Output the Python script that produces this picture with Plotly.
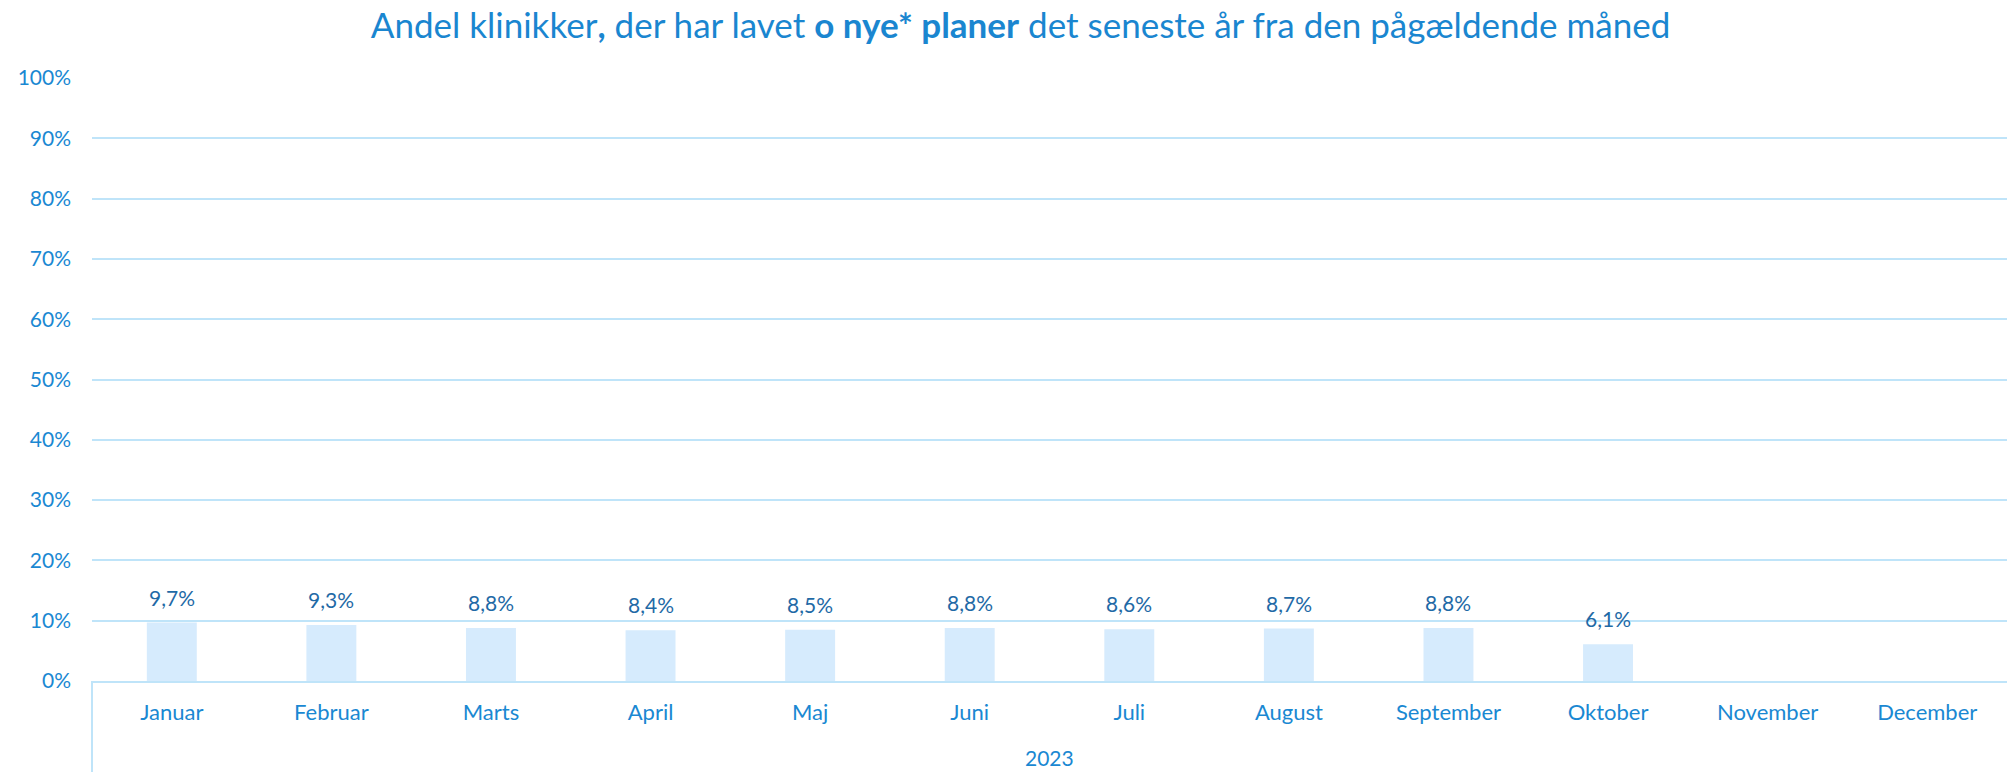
import plotly.graph_objects as go

year = "2023"
months = ["Januar", "Februar", "Marts", "April", "Maj", "Juni", "Juli",
          "August", "September", "Oktober", "November", "December"]
values = [0.097, 0.093, 0.088, 0.084, 0.085, 0.088, 0.086, 0.087, 0.088, 0.061, None, None]
y_ticks = [0, 0.1, 0.2, 0.3, 0.4, 0.5, 0.6, 0.7, 0.8, 0.9, 1.0]
y_tick_labels = ["0%", "10%", "20%", "30%", "40%", "50%", "60%", "70%", "80%", "90%", "100%"]

labels = [("" if v is None else f"{v*100:.1f}".replace(".", ",") + "%") for v in values]

FONT = "Lato"
TICK_COLOR = "#1a88d2"
LABEL_COLOR = "#1f6aa6"
GRID = "#bfe4f9"

fig = go.Figure(go.Bar(
    x=months,
    y=values,
    marker=dict(color="#d6ebfd", line=dict(width=0)),
    hoverinfo="skip",
))

for m, v, t in zip(months, values, labels):
    if v is None:
        continue
    fig.add_annotation(
        x=m, y=v, xref="x", yref="y", text=t, showarrow=False,
        yanchor="bottom", yshift=11,
        font=dict(family=FONT, size=21, color=LABEL_COLOR),
    )

# year group label and left divider of the grouped category axis
fig.add_annotation(
    x=0.5, y=-0.127, xref="paper", yref="paper", text=year, showarrow=False,
    xanchor="center", yanchor="middle", borderpad=0,
    font=dict(family=FONT, size=21, color=TICK_COLOR),
)
fig.add_shape(
    type="line", xref="paper", yref="paper", x0=0, x1=0, y0=0, y1=-0.152,
    line=dict(color=GRID, width=2),
)

fig.update_layout(
    width=2009, height=772,
    margin=dict(l=92, r=2, t=78, b=91),
    paper_bgcolor="white", plot_bgcolor="white",
    bargap=0.687,
    showlegend=False,
    title=dict(
        text="Andel klinikker<b>,</b> der har lavet <b>o nye* planer</b> det seneste år fra den pågældende måned",
        x=0.508, xanchor="center", y=0.967, yanchor="middle",
        font=dict(family=FONT, size=35, color="#1a86d0"),
    ),
    font=dict(family=FONT, color=TICK_COLOR),
)

fig.update_yaxes(
    range=[0, 1], tickvals=y_ticks, ticktext=y_tick_labels,
    showgrid=True, gridcolor=GRID, gridwidth=2,
    zeroline=False, showline=False, automargin=False,
    ticks="", ticklabelstandoff=20,
    tickfont=dict(family=FONT, size=21, color=TICK_COLOR),
)

fig.update_xaxes(
    type="category", automargin=False,
    showline=True, linecolor=GRID, linewidth=2,
    showgrid=False,
    ticks="", ticklabelstandoff=11,
    tickfont=dict(family=FONT, size=22, color=TICK_COLOR),
)

fig.write_html(
    "out.html",
    config={"displayModeBar": False},
    post_script="document.body.style.margin='0';",
)
